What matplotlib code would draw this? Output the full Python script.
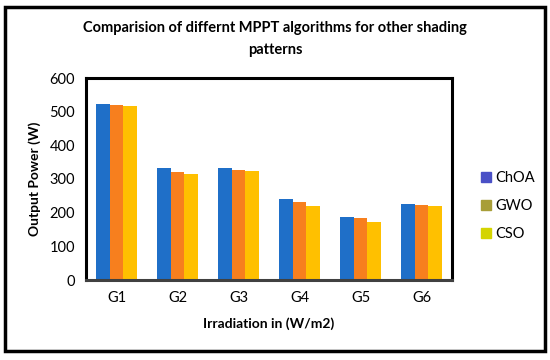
import matplotlib.pyplot as plt
import numpy as np
from matplotlib.patches import Patch, Rectangle

plt.rcParams['font.family'] = ['Lato', 'DejaVu Sans']

groups = ["G1", "G2", "G3", "G4", "G5", "G6"]
choa = [522, 332, 332, 242, 186, 227]
gwo = [520, 320, 327, 231, 183, 224]
cso = [516, 316, 323, 221, 173, 221]
series = ["ChOA", "GWO", "CSO"]

bar_colors = ["#1F6FC8", "#F77F1E", "#FFC000"]
legend_colors = ["#4A50C6", "#A89E38", "#D4D400"]

fig = plt.figure(figsize=(5.5, 3.6), dpi=100)
ax = fig.add_axes([86 / 550, 1 - 280 / 360, (452 - 86) / 550, (280 - 78) / 360])

x = np.arange(len(groups))
w = 0.22
for i, vals in enumerate([choa, gwo, cso]):
    ax.bar(x + (i - 1) * w, vals, w, color=bar_colors[i], zorder=2)

ax.set_xlim(-0.5, len(groups) - 0.5)
ax.set_ylim(0, 600)
ax.set_yticks(range(0, 601, 100))
ax.set_xticks(x)
ax.set_xticklabels(groups)
ax.tick_params(length=0, labelsize=10.5, pad=8)
for s in ax.spines.values():
    s.set_linewidth(2.2)
    s.set_color("black")
ax.spines["bottom"].set_color("#404040")

ax.set_ylabel("Output Power (W)", fontsize=10, fontweight="bold", labelpad=6)
ax.set_xlabel("Irradiation in (W/m2)", fontsize=10, fontweight="bold", labelpad=9)

handles = [Patch(color=c, label=s) for c, s in zip(legend_colors, series)]
fig.legend(handles=handles, loc="center left", bbox_to_anchor=(468 / 550, 1 - 206 / 360),
           frameon=False, fontsize=10.5, handlelength=0.7, handleheight=0.7,
           handletextpad=0.3, labelspacing=0.95)

fig.text(0.5, 1 - 28 / 360, "Comparision of differnt MPPT algorithms for other shading",
         ha="center", va="center", fontsize=10.5, fontweight="bold")
fig.text(0.5, 1 - 50 / 360, "patterns", ha="center", va="center",
         fontsize=10.5, fontweight="bold")

fig.patches.append(Rectangle((5 / 550, 1 - 351 / 360), 540 / 550, 344 / 360,
                             transform=fig.transFigure, fill=False,
                             edgecolor="black", linewidth=2.5))

fig.savefig("out.png", dpi=100)
